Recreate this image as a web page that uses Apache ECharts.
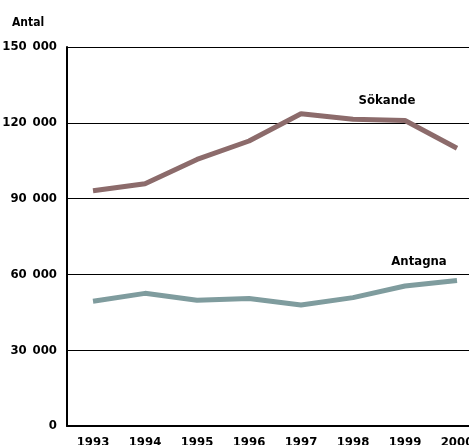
<!DOCTYPE html>
<html><head><meta charset="utf-8">
<script src="https://cdn.jsdelivr.net/npm/echarts@6/dist/echarts.min.js"></script>
<style>html,body{margin:0;padding:0;background:#fff}#c{width:469px;height:445px}</style>
</head><body><div id="c"></div>
<script>
const years = ['1993','1994','1995','1996','1997','1998','1999','2000'];
const sokande = [93100, 95900, 105500, 112800, 123600, 121400, 120900, 109900];
const antagna = [49400, 52500, 49800, 50500, 47900, 50800, 55400, 57600];
const yTicks = [0, 30000, 60000, 90000, 120000, 150000];
const seriesNames = ['Sökande', 'Antagna'];

const FONT = '"DejaVu Sans", sans-serif';
const W = 'bold condensed';
const fmt = v => v === 0 ? '0' : String(v).replace(/\B(?=(\d{3})+(?!\d))/g, '\u2002');

function withLabel(arr, idx, offset) {
  return arr.map((v, i) => i === idx ? {
    value: v,
    label: {show: true, formatter: '{a}', position: 'top', offset: offset,
      color: '#000', fontFamily: FONT, fontWeight: W, fontSize: 13}
  } : v);
}

const chart = echarts.init(document.getElementById('c'), null, {renderer: 'canvas'});
chart.setOption({
  animation: false,
  grid: {left: 67, top: 47, width: 416, height: 379, containLabel: false, outerBoundsMode: 'none'},
  xAxis: {
    type: 'category', data: years, boundaryGap: true,
    axisLine: {lineStyle: {color: '#000', width: 2}},
    axisTick: {alignWithLabel: true, length: 7, lineStyle: {color: '#000', width: 1.5}},
    axisLabel: {color: '#000', fontFamily: FONT, fontWeight: W, fontSize: 13, margin: 10}
  },
  yAxis: {
    type: 'value', min: yTicks[0], max: yTicks[yTicks.length - 1], interval: 30000,
    name: 'Antal', nameLocation: 'end', nameGap: 18,
    nameTextStyle: {color: '#000', fontFamily: FONT, fontWeight: W, fontSize: 12, align: 'left', padding: [0, 0, 0, -55]},
    axisLine: {show: true, lineStyle: {color: '#000', width: 2}},
    axisTick: {show: false},
    splitLine: {lineStyle: {color: '#000', width: 1}},
    axisLabel: {color: '#000', fontFamily: FONT, fontWeight: W, fontSize: 13, margin: 10, formatter: fmt}
  },
  series: [
    {name: seriesNames[0], type: 'line', data: withLabel(sokande, 5, [34, -7]),
     symbol: 'circle', symbolSize: 0.01, showSymbol: true, lineStyle: {color: '#8c6b6b', width: 5}, itemStyle: {color: '#8c6b6b'}},
    {name: seriesNames[1], type: 'line', data: withLabel(antagna, 7, [-38, -7]),
     symbol: 'circle', symbolSize: 0.01, showSymbol: true, lineStyle: {color: '#7f9c9e', width: 5}, itemStyle: {color: '#7f9c9e'}}
  ]
});
</script></body></html>
